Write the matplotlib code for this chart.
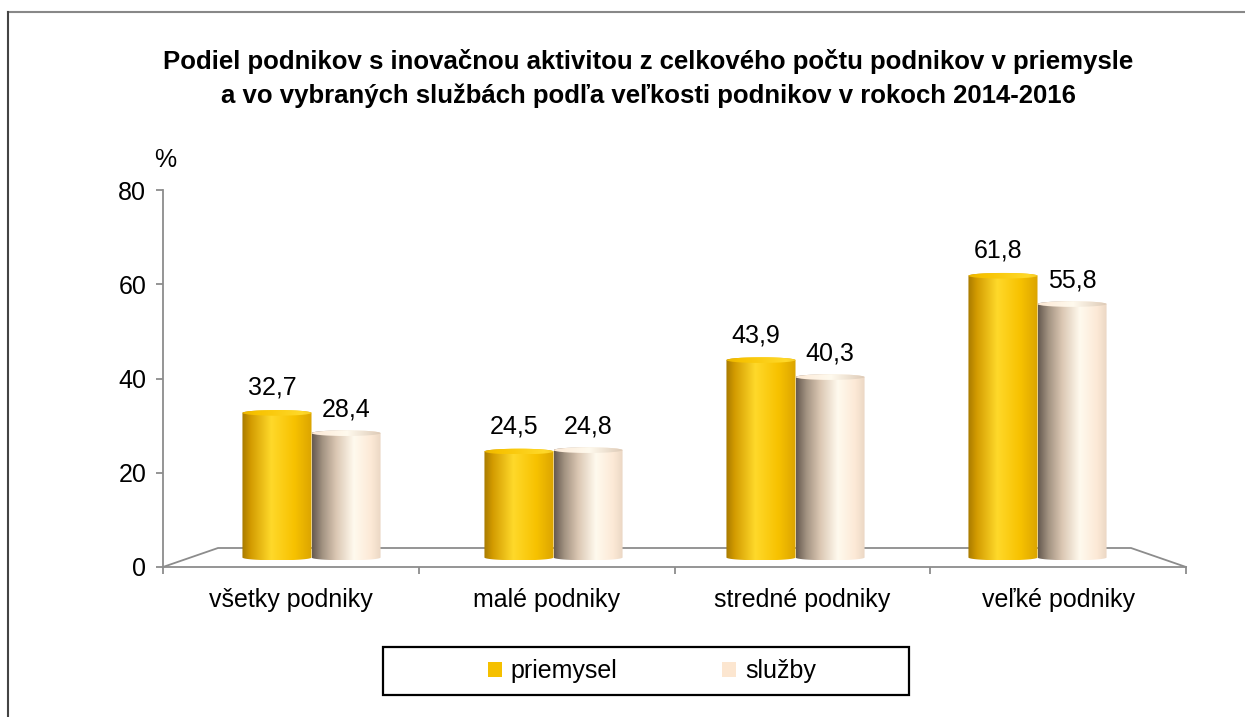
import numpy as np
import matplotlib
matplotlib.use("Agg")
import matplotlib.pyplot as plt
from matplotlib.path import Path
from matplotlib.patches import PathPatch, Patch, Rectangle, Ellipse
from matplotlib.colors import LinearSegmentedColormap
from matplotlib.lines import Line2D

plt.rcParams['font.family'] = ['Liberation Sans', 'DejaVu Sans']

# data
categories = ["všetky podniky", "malé podniky", "stredné podniky", "veľké podniky"]
series_names = ["priemysel", "služby"]
priemysel = [32.7, 24.5, 43.9, 61.8]
sluzby = [28.4, 24.8, 40.3, 55.8]
yticks = [0, 20, 40, 60, 80]

title = ("Podiel podnikov s inovačnou aktivitou z celkového počtu podnikov v priemysle\n"
         "a vo vybraných službách podľa veľkosti podnikov v rokoch 2014-2016")

# colours (horizontal shading of the cylinders)
cmap_p = LinearSegmentedColormap.from_list("p", [
    (0.0, "#a87a00"), (0.12, "#d29a00"), (0.42, "#ffd92a"),
    (0.75, "#f7c200"), (1.0, "#dba400")])
cmap_s = LinearSegmentedColormap.from_list("s", [
    (0.0, "#665a50"), (0.15, "#a39382"), (0.35, "#dcc8b4"),
    (0.6, "#fffaee"), (0.85, "#fce9d6"), (1.0, "#e9d5c2")])
legend_colors = ["#f5c000", "#fce6d0"]

FS = 18
W, H, DPI = 1245, 717, 100
fig = plt.figure(figsize=(W / DPI, H / DPI), dpi=DPI)

# plot area in pixels
px_l, px_r, px_b, px_t = 163, 1186, 567, 190
ax = fig.add_axes([px_l / W, 1 - px_b / H, (px_r - px_l) / W, (px_b - px_t) / H])
n = len(categories)
ax.set_xlim(0, n)
ax.set_ylim(0, 80)

# 3d depth of the floor in data units
depth_x = 55 / (px_r - px_l) * n
depth_y = 19 / ((px_b - px_t) / 80)

gray = "#8c8c8c"
for s in ["top", "right"]:
    ax.spines[s].set_visible(False)
for s in ["left", "bottom"]:
    ax.spines[s].set_color(gray)
    ax.spines[s].set_linewidth(1.3)

ax.set_yticks(yticks)
ax.set_yticklabels([str(v) for v in yticks], fontsize=FS)
ax.tick_params(axis="y", length=5, width=1.3, color=gray, pad=7)
ax.set_xticks(np.arange(n) + 0.5)
ax.set_xticklabels(categories, fontsize=FS)
ax.tick_params(axis="x", which="major", length=0, pad=15)
ax.set_xticks(np.arange(n + 1), minor=True)
ax.tick_params(axis="x", which="minor", length=5, width=1.3, color=gray)

# floor edges
floor_x = [0, depth_x, n - depth_x, n]
floor_y = [0, depth_y, depth_y, 0]
ax.add_line(Line2D(floor_x, floor_y, color=gray, lw=1.3, clip_on=False, zorder=1))

bar_w = 0.27
base = depth_y * 0.5
eh = 0.6  # half height of the ellipses (data units)
mid_scale = (n - depth_x) / n


def cylinder(xc, top, cmap):
    r = bar_w / 2
    x0, x1 = xc - r, xc + r
    t1 = np.linspace(np.pi, 2 * np.pi, 40)
    t2 = np.linspace(0, np.pi, 40)
    xs = np.concatenate([[x0], xc + r * np.cos(t1), [x1], xc + r * np.cos(t2)])
    ys = np.concatenate([[top], base + eh * np.sin(t1), [top], top + eh * np.sin(t2)])
    body = PathPatch(Path(np.column_stack([xs, ys])), facecolor="none", edgecolor="none")
    ax.add_patch(body)
    grad = np.linspace(0, 1, 256).reshape(1, -1)
    im = ax.imshow(grad, cmap=cmap, aspect="auto", extent=[x0, x1, base - eh, top + eh],
                   interpolation="bicubic", zorder=2)
    im.set_clip_path(body)
    cap = Ellipse((xc, top), 2 * r, 2 * eh, facecolor="none", edgecolor="none")
    ax.add_patch(cap)
    im2 = ax.imshow(grad[:, ::-1] * 0.5 + 0.35, cmap=cmap, vmin=0, vmax=1, aspect="auto",
                    extent=[x0, x1, top - eh, top + eh], interpolation="bicubic", zorder=3)
    im2.set_clip_path(cap)


for i in range(n):
    gc = depth_x / 2 + (i + 0.5) * mid_scale
    xc_p = gc - bar_w / 2
    xc_s = gc + bar_w / 2
    cylinder(xc_p, priemysel[i], cmap_p)
    cylinder(xc_s, sluzby[i], cmap_s)
    ax.annotate(f"{priemysel[i]:.1f}".replace(".", ","), (xc_p - 0.02, priemysel[i]),
                xytext=(0, 18), textcoords="offset points", ha="center", va="center",
                fontsize=FS, zorder=5)
    ax.annotate(f"{sluzby[i]:.1f}".replace(".", ","), (xc_s, sluzby[i]),
                xytext=(0, 17), textcoords="offset points", ha="center", va="center",
                fontsize=FS, zorder=5)

fig.text(165 / W, 1 - 160 / H, "%", ha="center", va="center", fontsize=FS)

fig.text(648 / W, 1 - 78.5 / H, title, ha="center", va="center", fontsize=18.5,
         fontweight="bold", linespacing=1.48)

# legend
fig.patches.append(Rectangle((383 / W, 1 - 695 / H), (909 - 383) / W, 48 / H,
                             transform=fig.transFigure, facecolor="white",
                             edgecolor="black", lw=1.6))
handles = [Patch(facecolor=c, edgecolor="none") for c in legend_colors]
fig.legend(handles, series_names, loc="center", bbox_to_anchor=(652 / W, 1 - 671 / H),
           ncol=2, frameon=False, fontsize=FS, handlelength=0.55, handleheight=0.55,
           handletextpad=0.35, columnspacing=4.2)

# outer frame
fig.add_artist(Line2D([8 / W, 1], [1 - 12 / H] * 2, transform=fig.transFigure,
                      color="#888888", lw=1.5))
fig.add_artist(Line2D([8 / W] * 2, [0, 1 - 12 / H], transform=fig.transFigure,
                      color="#444444", lw=1.5))

fig.savefig("out.png", dpi=DPI)
